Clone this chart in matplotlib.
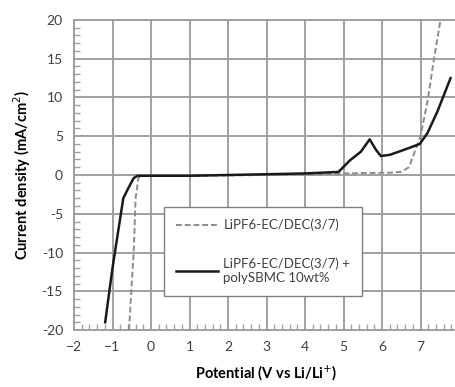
import matplotlib.pyplot as plt
from matplotlib.ticker import MultipleLocator

plt.rcParams['font.family'] = ['Lato', 'DejaVu Sans']

# LiPF6-EC/DEC(3/7) (dashed)
base_x = [-0.57, -0.5, -0.45, -0.4, -0.33, -0.3, 1.0, 3.0, 4.5, 5.0, 5.5, 6.2, 6.5, 6.7, 6.85, 7.0, 7.2, 7.35, 7.52]
base_y = [-20, -14, -10, -3, -0.5, -0.1, -0.1, 0.0, 0.1, 0.2, 0.25, 0.3, 0.4, 1.0, 3.0, 5.0, 10.0, 15.0, 20.0]

# LiPF6-EC/DEC(3/7) + polySBMC 10wt% (solid)
poly_x = [-1.19, -1.0, -0.72, -0.6, -0.45, -0.35, 1.0, 3.0, 4.0, 4.87, 5.17, 5.45, 5.68, 5.85, 5.97, 6.2, 6.49, 6.98, 7.18, 7.44, 7.78]
poly_y = [-19, -12, -3, -1.8, -0.4, -0.1, -0.1, 0.1, 0.2, 0.4, 1.9, 3.0, 4.6, 3.2, 2.45, 2.6, 3.1, 4.0, 5.4, 8.2, 12.5]

y_ticks = [-20, -15, -10, -5, 0, 5, 10, 15, 20]
x_ticks = [-2, -1, 0, 1, 2, 3, 4, 5, 6, 7, 8]

fig = plt.figure(figsize=(4.56, 3.87), dpi=100)
ax = fig.add_axes([74 / 456, 57 / 387, 385 / 456, 310 / 387])

grid_c = '#a0a0a0'
ax.plot(base_x, base_y, color='#8c8c8c', lw=1.4, ls=(0, (3, 1.5)),
        label='LiPF6-EC/DEC(3/7)', zorder=3)
ax.plot(poly_x, poly_y, color='#1a1a1a', lw=1.8,
        label='LiPF6-EC/DEC(3/7) +\npolySBMC 10wt%', zorder=4)

ax.set_xlim(-2, 8)
ax.set_ylim(-20, 20)
ax.set_xticks(x_ticks)
ax.set_yticks(y_ticks)
ax.set_yticklabels([str(v) for v in y_ticks])
ax.xaxis.set_minor_locator(MultipleLocator(0.2))
ax.yaxis.set_minor_locator(MultipleLocator(1))
for s in ['top', 'right']:
    ax.spines[s].set_visible(False)
for s in ['left', 'bottom']:
    ax.spines[s].set_color(grid_c)
    ax.spines[s].set_linewidth(1.4)
ax.tick_params(which='major', length=0, labelsize=10, labelcolor='#404040', pad=8)
ax.tick_params(which='minor', direction='in', length=4, color=grid_c, width=1)

# major gridlines, drawn as their own artists between the axes patch and the curves
ax.vlines(x_ticks, y_ticks[0], y_ticks[-1], colors=grid_c, linewidths=1.4,
          zorder=2, clip_on=False)
ax.hlines(y_ticks, x_ticks[0], x_ticks[-1], colors=grid_c, linewidths=1.4,
          zorder=2, clip_on=False)
ax.set_xlim(-2, 8)
ax.set_ylim(-20, 20)

ax.set_xlabel('Potential (V vs Li/Li$^{+}$)', fontsize=10.5, fontweight='bold', labelpad=8)
ax.set_ylabel('Current density (mA/cm$^{2}$)', fontsize=10.5, fontweight='bold', labelpad=6)

leg = ax.legend(loc='upper left', bbox_to_anchor=(164 / 456, 1 - 207 / 387),
                bbox_transform=fig.transFigure, fontsize=9.5, frameon=True,
                fancybox=False, edgecolor='#808080', framealpha=1,
                handlelength=3.2, handletextpad=0.4, labelspacing=2.0,
                borderpad=0.9, borderaxespad=0)
leg.get_frame().set_linewidth(1.0)
leg.set_zorder(5)
for t in leg.get_texts():
    t.set_color('#404040')

fig.savefig('out.png', dpi=100)
